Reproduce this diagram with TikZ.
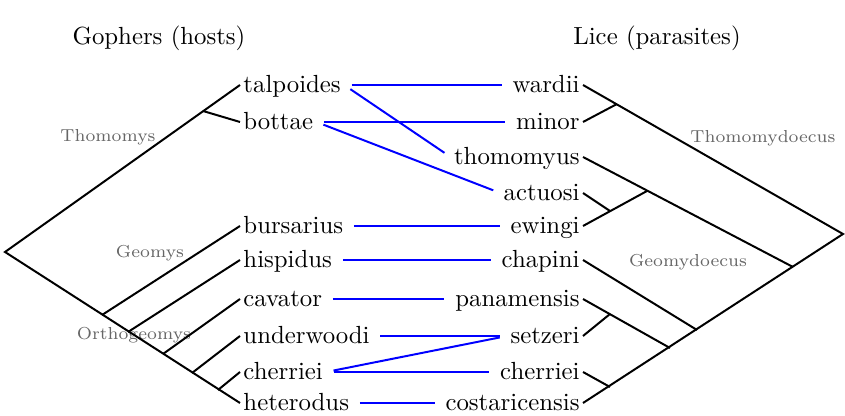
\documentclass[tikz,border=0pt]{standalone}
\begin{document}
\begin{tikzpicture}[x=1.418cm, y=1.418cm, line width=0.8pt,
    leaf/.style={inner sep=1pt, text height=7pt, text depth=0.6pt},
    clade/.style={font=\scriptsize, text=black!60},
    link/.style={blue, shorten <=3pt, shorten >=3pt}]
  \useasboundingbox (0,0) rectangle (8.45,4.16);
  \node (hosts) at (1.59,3.78) {Gophers (hosts)};
  \node (parasites) at (6.57,3.78) {Lice (parasites)};
  % hosts on the left, leaves at x = 2.40 ; parasites on the right, leaves at x = 5.83
  \foreach \n/\y in {talpoides/3.31, bottae/2.94, bursarius/1.90, hispidus/1.56, cavator/1.17, underwoodi/0.80, cherriei/0.44, heterodus/0.13}
    \node[leaf, anchor=west] (h-\n) at (2.40,\y) {\n};
  \foreach \n/\y in {wardii/3.31, minor/2.94, thomomyus/2.59, actuosi/2.23, ewingi/1.90, chapini/1.56, panamensis/1.17, setzeri/0.80, cherriei/0.44, costaricensis/0.13}
    \node[leaf, anchor=east] (p-\n) at (5.83,\y) {\n};
  \coordinate (hroot) at (0.05,1.64); \coordinate (hthom) at (2.03,3.05);
  \coordinate (hgeo) at (1.02,1.01); \coordinate (hhis) at (1.28,0.84); \coordinate (hcav) at (1.63,0.62);
  \coordinate (hund) at (1.92,0.43); \coordinate (hche) at (2.18,0.26);
  \coordinate (proot) at (8.43,1.82); \coordinate (pthom) at (6.17,3.12); \coordinate (pgeo) at (7.93,1.49);
  \coordinate (pewi) at (6.47,2.25); \coordinate (pact) at (6.10,2.05);
  \coordinate (pcha) at (6.97,0.86); \coordinate (ppan) at (6.70,0.68); \coordinate (pset) at (6.10,1.02); \coordinate (pche) at (6.10,0.29);
  \node[clade] (thomomys) at (1.08,2.79) {Thomomys};
  \node[clade] (geomys) at (1.50,1.63) {Geomys};
  \node[clade] (orthogeomys) at (1.34,0.81) {Orthogeomys};
  \node[clade] (thomomydoecus) at (7.63,2.78) {Thomomydoecus};
  \node[clade] (geomydoecus) at (6.88,1.54) {Geomydoecus};
  \draw (h-talpoides.west) -- (hroot) -- (h-heterodus.west);
  \draw (hthom) -- (h-bottae.west); \draw (hgeo) -- (h-bursarius.west); \draw (hhis) -- (h-hispidus.west);
  \draw (hcav) -- (h-cavator.west); \draw (hund) -- (h-underwoodi.west); \draw (hche) -- (h-cherriei.west);
  \draw (p-wardii.east) -- (proot) -- (p-costaricensis.east);
  \draw (p-minor.east) -- (pthom); \draw (p-thomomyus.east) -- (pgeo); \draw (p-ewingi.east) -- (pewi);
  \draw (p-actuosi.east) -- (pact); \draw (p-chapini.east) -- (pcha); \draw (p-panamensis.east) -- (ppan);
  \draw (p-setzeri.east) -- (pset); \draw (p-cherriei.east) -- (pche);
  \foreach \a/\b in {talpoides/wardii, talpoides/thomomyus, bottae/minor, bottae/actuosi, bursarius/ewingi, hispidus/chapini, cavator/panamensis, underwoodi/setzeri, cherriei/setzeri, cherriei/cherriei, heterodus/costaricensis}
    \draw[link] (h-\a.east) -- (p-\b.west);
\end{tikzpicture}
\end{document}
